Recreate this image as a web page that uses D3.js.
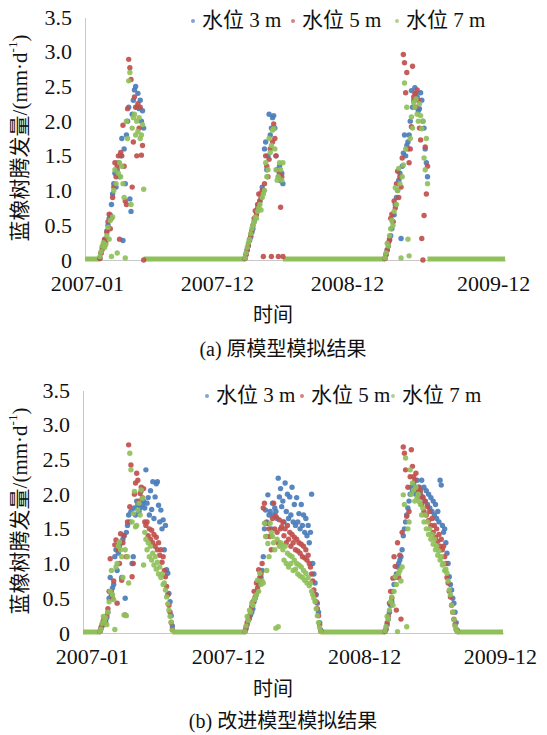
<!DOCTYPE html>
<meta charset="utf-8">
<style>
  body {
    margin: 0;
    background: #fff;
  }

  .axis path {
    stroke: #c8c8c8;
    stroke-width: 1;
    shape-rendering: crispEdges;
  }
</style>

<body>
  <div id="chart"></div>
  <script src="https://d3js.org/d3.v7.min.js"></script>

  <script>
    var serif = "'Liberation Serif', 'Times New Roman', 'DejaVu Serif', 'Noto Sans CJK SC', serif";

    // series and tick labels
    var seriesNames = ["水位 3 m", "水位 5 m", "水位 7 m"];
    var seriesColors = ["#4a7dbb", "#c0504d", "#8fc05a"];
    var yTicks = [0, 0.5, 1.0, 1.5, 2.0, 2.5, 3.0, 3.5];
    var xTickLabels = ["2007-01", "2007-12", "2008-12", "2009-12"];

    // days counted from 2007-01-01, one value every 3 days inside each growing season
    var totalDays = 1096;
    var stepDays = 3;
    var tickDaysA = [5, 344, 683, 1064];
    var tickDaysB = [23, 378, 733, 1087];
    var seasonStartA = [39, 417, 782];
    var seasonStartB = [44, 422, 787];

    // (a) original model
    var blueA = [
      [0.03, 0.1, 0.18, 0.2, 0.28, 0.3, 0.42, 0.5, 0.6, 0.65, 0.8, 0.95, 1.1, 1.25, 1.05, 1.3, 1.4, 1.2, 1.5, 1.75, 0.28, 1.6, 1.1, 1.8, 2.0, 2.2, 0.88, 0.7, 2.1, 2.3, 2.45, 2.5, 2.2, 2.4, 2.18, 2.3, 2.0, 2.15, 1.9],
      [0.02, 0.08, 0.14, 0.2, 0.28, 0.33, 0.4, 0.45, 0.55, 0.6, 0.68, 0.75, 0.8, 0.85, 0.95, 1.05, 1.0, 1.6, 1.7, 1.3, 1.5, 2.1, 1.8, 1.9, 2.05, 2.08, 1.9, 1.5, 1.3, 1.2, 1.35, 1.14, 1.25, 1.1],
      [0.02, 0.08, 0.14, 0.2, 0.28, 0.35, 0.45, 0.55, 0.65, 0.8, 0.9, 1.0, 1.15, 1.25, 0.31, 1.35, 1.54, 1.8, 1.5, 1.65, 1.7, 1.8, 2.0, 2.44, 2.2, 2.3, 2.48, 2.4, 2.35, 2.15, 2.18, 2.41, 2.3, 2.0, 1.9, 1.6, 1.4, 1.2]
    ];
    var redA = [
      [0.02, 0.1, 0.15, 0.22, 0.3, 0.25, 0.4, 0.55, 0.66, 0.45, 0.6, 0.9, 1.05, 1.4, 1.2, 1.35, 1.5, 0.3, 1.55, 1.5, 1.94, 1.35, 0.85, 0.8, 2.18, 2.89, 2.77, 2.6, 1.05, 1.7, 2.35, 2.2, 1.5, 2.25, 1.9, 2.2, 1.51, 1.65, 0],
      [0.02, 0.08, 0.15, 0.22, 0.3, 0.35, 0.42, 0.5, 0.6, 0.71, 0.65, 0.8, 0.95, 0.85, 0.9, 1.0, 0.05, 1.1, 1.5, 1.35, 1.2, 1.45, 1.6, 0.05, 1.7, 1.96, 1.75, 1.5, 1.3, 0.05, 1.25, 0.76, 1.2, 0.05],
      [0.02, 0.08, 0.15, 0.25, 0.3, 0.6, 0.66, 0.55, 0.85, 0.75, 1.1, 1.28, 0.9, 1.2, 1.05, 1.47, 2.96, 2.84, 2.41, 2.7, 1.6, 1.4, 1.6, 1.92, 2.79, 2.35, 2.4, 2.2, 2.45, 2.3, 1.9, 1.73, 0.31, 0, 0.64, 1.63, 0.95, 1.35]
    ];
    var greenA = [
      [0.05, 0.12, 0.2, 0.25, 0.18, 0.22, 0.35, 0.47, 0.3, 0.57, 0.05, 0.62, 1.0, 1.3, 1.1, 0.1, 1.25, 1.4, 1.2, 1.35, 1.1, 0.9, 0.03, 2.0, 1.75, 2.58, 2.7, 0.8, 1.9, 2.05, 2.1, 1.8, 2.0, 1.85, 2.05, 1.75, 1.8, 1.95, 1.02],
      [0.03, 0.1, 0.18, 0.25, 0.3, 0.38, 0.45, 0.5, 0.55, 0.62, 0.6, 0.7, 0.75, 0.8, 0.72, 0.9, 0.95, 1.0, 1.4, 1.2, 1.3, 1.75, 1.55, 1.65, 1.87, 1.89, 1.6, 1.3, 1.15, 1.2, 1.4, 1.3, 1.15, 1.4],
      [0.03, 0.1, 0.24, 0.2, 0.35, 0.45, 0.57, 0.5, 0.7, 1.04, 0.8, 1.0, 1.32, 1.1, 0.03, 1.2, 1.37, 2.55, 1.6, 2.2, 0.3, 0.06, 1.75, 2.06, 1.9, 2.27, 2.2, 2.32, 2.1, 2.0, 2.25, 2.08, 1.89, 2.0, 1.47, 1.3, 1.75, 1.1]
    ];

    // (b) improved model
    var blueB = [
      [0.02, 0.06, 0.1, 0.15, 0.2, 0.18, 0.22, 0.3, 0.5, 0.8, 0.55, 0.65, 0.7, 1.1, 1.2, 0.9, 1.15, 1.25, 1.3, 0.8, 1.35, 1.4, 0.5, 1.45, 1.55, 1.7, 1.6, 1.75, 1.0, 1.1, 1.8, 1.7, 1.9, 1.85, 1.75, 1.8, 2.05, 1.85, 1.9, 1.8,
        2.35, 1.87, 1.95, 1.7, 2.05, 1.78, 2.18, 1.65, 1.96, 2.15, 2.18, 1.84, 1.6, 1.77, 1.5, 1.63, 1.2, 1.55, 0.91, 0.86, 0.57, 0.45, 0.25, 0.1],
      [0.02, 0.06, 0.12, 0.18, 0.21, 0.26, 0.3, 0.35, 0.45, 0.5, 0.55, 0.6, 0.7, 0.75, 0.8, 0.9, 1.1, 1.5, 1.77, 1.6, 1.99, 1.7, 1.75, 1.5, 1.87, 1.7, 1.8, 1.75, 1.65, 2.23, 1.96, 2.08, 1.82,
        1.9, 1.6, 2.16, 1.75, 2.0, 1.65, 1.96, 1.7, 2.1, 1.6, 1.85, 1.55, 1.95, 1.6, 1.72, 1.5, 1.85, 1.55, 1.7, 1.45, 1.65, 1.4, 1.55, 1.3, 1.45, 2.0, 1.0, 0.85, 0.72, 0.55, 0.43, 0.3, 0.15, 0.04],
      [0.02, 0.05, 0.12, 0.2, 0.3, 0.4, 0.45, 0.6, 0.7, 0.8, 0.85, 0.95, 1.0, 1.05, 1.1, 1.2, 1.4, 1.5, 1.6, 1.7, 1.8, 1.9, 2.0, 2.1, 2.05, 2.15, 2.1, 2.0, 2.2, 2.05, 2.1,
        2.0, 2.2, 1.95, 2.1, 1.9, 2.05, 1.85, 2.0, 1.8, 1.95, 1.75, 1.9, 1.7, 1.85, 1.65, 1.75, 1.6, 2.2, 2.13, 1.55, 1.45, 1.5, 1.3, 1.15, 1.0, 0.81, 0.7, 0.62, 0.5, 0.43, 0.3, 0.15, 0.04]
    ];
    var redB = [
      [0.02, 0.08, 0.12, 0.18, 0.22, 0.15, 0.25, 0.35, 0.6, 1.07, 0.6, 0.5, 0.75, 1.27, 1.34, 0.43, 1.2, 1.0, 1.43, 0.76, 1.3, 1.4, 0.26, 1.1, 1.6, 2.71, 1.82, 2.42, 0.81, 1.0, 2.0, 2.16, 2.3, 2.2, 1.9, 2.01, 2.1, 1.95, 2.08, 1.6,
        1.55, 1.6, 1.4, 1.5, 1.35, 1.48, 1.3, 1.42, 1.25, 1.38, 1.2, 1.3, 1.12, 1.2, 1.02, 1.1, 0.9, 0.81, 0.67, 0.55, 0.4, 0.3, 0.15, 0.05],
      [0.02, 0.08, 0.15, 0.2, 0.25, 0.3, 0.38, 0.45, 0.6, 0.52, 0.72, 0.65, 0.91, 0.8, 0.85, 1.0, 1.8, 1.87, 1.58, 1.39, 1.58, 1.5, 1.39, 1.2, 1.65, 1.87, 1.5, 1.68, 1.45, 1.3, 1.63, 1.5, 1.53,
        1.6, 1.4, 1.5, 1.3, 1.55, 1.35, 1.45, 1.25, 1.42, 1.3, 1.38, 1.2, 1.35, 1.18, 1.3, 1.15, 1.28, 1.1, 1.25, 1.08, 1.2, 1.05, 1.12, 1.0, 0.95, 0.85, 0.75, 0.62, 0.55, 0.45, 0.35, 0.25, 0.12, 0.03],
      [0.02, 0.06, 0.15, 0.25, 0.43, 0.6, 0.5, 0.79, 1.1, 0.96, 0.33, 1.3, 0.8, 1.12, 0.2, 1.45, 2.68, 2.59, 2.35, 1.68, 2.1, 1.75, 2.25, 2.64, 2.4, 2.25, 2.2, 2.3, 2.06, 2.1, 1.96,
        2.05, 1.85, 1.96, 1.75, 1.9, 1.7, 1.82, 1.62, 1.75, 1.55, 1.65, 1.45, 1.55, 1.38, 1.5, 1.32, 1.42, 1.25, 1.35, 1.2, 1.25, 1.1, 1.0, 0.8, 0.72, 0.6, 0.52, 0.4, 0.3, 0.2, 0.12, 0.05, 0.02]
    ];
    var greenB = [
      [0.02, 0.06, 0.14, 0.24, 0.18, 0.22, 0.12, 0.3, 0.45, 0.6, 0.9, 0.55, 0.48, 0.05, 0.95, 1.0, 1.25, 1.31, 1.2, 1.1, 0.8, 0.26, 1.2, 0.25, 1.1, 0.72, 2.59, 2.35, 1.6, 1.72, 2.04, 1.53, 1.55, 1.77, 1.87, 1.7, 2.06, 1.94, 0.98, 1.45,
        1.35, 1.2, 1.3, 1.1, 1.25, 1.05, 1.15, 0.98, 1.1, 0.92, 1.02, 0.85, 0.95, 0.8, 0.85, 0.7, 0.72, 0.62, 0.52, 0.42, 0.33, 0.24, 0.16, 0.04],
      [0.02, 0.1, 0.24, 0.18, 0.33, 0.3, 0.43, 0.4, 0.48, 0.5, 0.55, 0.76, 0.6, 0.86, 0.7, 0.75, 0.72, 1.58, 1.39, 0.9, 1.29, 1.1, 1.58, 1.45, 1.39, 1.3, 1.2, 0.07, 1.35, 0.09, 1.25, 1.3, 1.27,
        1.2, 1.05, 1.25, 1.0, 1.15, 0.95, 1.12, 1.0, 1.1, 0.9, 1.05, 0.92, 1.0, 0.85, 0.98, 0.82, 0.95, 0.8, 0.9, 0.76, 0.86, 0.72, 0.8, 0.68, 0.72, 0.6, 0.55, 0.5, 0.45, 0.35, 0.25, 0.15, 0.08, 0.02],
      [0.03, 0.09, 0.24, 0.2, 0.33, 0.45, 0.52, 0.4, 0.6, 0.81, 0.7, 0.02, 0.86, 0.9, 0.75, 0.95, 1.99, 1.85, 2.52, 0.09, 1.5, 1.6, 2.35, 2.0, 2.16, 2.06, 1.9, 2.1, 1.95, 2.0, 1.89,
        1.85, 1.7, 1.8, 1.6, 1.7, 1.5, 1.6, 1.42, 1.5, 1.35, 1.42, 1.28, 1.35, 1.2, 1.25, 1.12, 1.18, 1.05, 1.1, 0.98, 1.0, 0.9, 0.92, 0.86, 0.75, 0.62, 0.55, 0.4, 0.3, 0.19, 0.1, 0.05, 0.02]
    ];

    var panels = [{
        series: [blueA, redA, greenA],
        starts: seasonStartA,
        tickDays: tickDaysA,
        left: 85, right: 505, top: 17, bottom: 260,
        legendY: 20, legendX: [193, 293, 397],
        titleY: 138, xTitleY: 315,
        caption: "(a) 原模型模拟结果", captionY: 349
      },
      {
        series: [blueB, redB, greenB],
        starts: seasonStartB,
        tickDays: tickDaysB,
        left: 83, right: 503, top: 390, bottom: 633,
        legendY: 395, legendX: [207, 302, 393],
        titleY: 511, xTitleY: 689,
        caption: "(b) 改进模型模拟结果", captionY: 721
      }
    ];

    var svg = d3.select("#chart")
      .append("svg")
      .attr("width", 547)
      .attr("height", 735);

    panels.forEach(function(p) {
      var x = d3.scaleLinear().domain([0, totalDays - 1]).range([p.left, p.right]);
      var y = d3.scaleLinear().domain([0, 3.5]).range([p.bottom, p.top]);
      var g = svg.append("g");

      // y axis
      g.append("g")
        .attr("class", "axis")
        .attr("transform", "translate(" + p.left + ",0)")
        .call(d3.axisLeft(y).tickValues(yTicks).tickSize(0).tickPadding(13)
          .tickFormat(function(d) { return d === 0 ? "0" : d.toFixed(1); }));

      // x axis
      g.append("g")
        .attr("class", "axis")
        .attr("transform", "translate(0," + p.bottom + ")")
        .call(d3.axisBottom(x).tickValues(p.tickDays).tickSize(0).tickPadding(15)
          .tickFormat(function(d, i) { return xTickLabels[i]; }));

      g.selectAll(".axis text")
        .style("font-family", serif)
        .style("font-size", "22px")
        .style("fill", "#111");

      // zero stretches between the seasons (green band on the axis)
      var runs = [];
      var prevEnd = 0;
      p.starts.forEach(function(s, k) {
        runs.push([prevEnd, s]);
        prevEnd = s + (p.series[2][k].length - 1) * stepDays;
      });
      runs.push([prevEnd, totalDays - 1]);

      g.selectAll(".zero")
        .data(runs)
        .enter()
        .append("line")
        .attr("x1", function(d) { return x(d[0]); })
        .attr("x2", function(d) { return x(d[1]); })
        .attr("y1", y(0) - 1)
        .attr("y2", y(0) - 1)
        .style("stroke", seriesColors[2])
        .style("stroke-width", 5);

      // dots: blue, then red, then green on top
      p.series.forEach(function(seasons, si) {
        var pts = [];
        seasons.forEach(function(vals, k) {
          vals.forEach(function(v, i) {
            pts.push({ day: p.starts[k] + i * stepDays, v: v });
          });
        });
        g.selectAll(".dot" + si)
          .data(pts)
          .enter()
          .append("circle")
          .attr("cx", function(d) { return x(d.day); })
          .attr("cy", function(d) { return y(d.v); })
          .attr("r", 2.7)
          .style("fill", seriesColors[si])
          .style("opacity", 0.92);
      });

      // legend
      seriesNames.forEach(function(name, i) {
        g.append("circle")
          .attr("cx", p.legendX[i])
          .attr("cy", p.legendY + 1)
          .attr("r", 2)
          .style("fill", seriesColors[i])
          .style("opacity", 0.7);
        g.append("text")
          .attr("x", p.legendX[i] + 9)
          .attr("y", p.legendY)
          .attr("dominant-baseline", "central")
          .style("font-family", serif)
          .style("font-size", "21px")
          .style("fill", "#111")
          .text(name);
      });

      // y-axis title
      var yt = g.append("text")
        .attr("transform", "translate(20," + p.titleY + ") rotate(-90)")
        .attr("text-anchor", "middle")
        .attr("dominant-baseline", "central")
        .style("font-family", serif)
        .style("font-size", "21px")
        .style("fill", "#111");
      yt.append("tspan").text("蓝橡树腾发量/(mm·d");
      yt.append("tspan").attr("dy", -8).style("font-size", "13px").text("-1");
      yt.append("tspan").attr("dy", 8).text(")");

      // x-axis title and caption
      g.append("text")
        .attr("x", 273)
        .attr("y", p.xTitleY)
        .attr("text-anchor", "middle")
        .attr("dominant-baseline", "central")
        .style("font-family", serif)
        .style("font-size", "20px")
        .style("fill", "#111")
        .text("时间");

      g.append("text")
        .attr("x", 283)
        .attr("y", p.captionY)
        .attr("text-anchor", "middle")
        .attr("dominant-baseline", "central")
        .style("font-family", serif)
        .style("font-size", "20px")
        .style("fill", "#111")
        .text(p.caption);
    });
  </script>
</body>
